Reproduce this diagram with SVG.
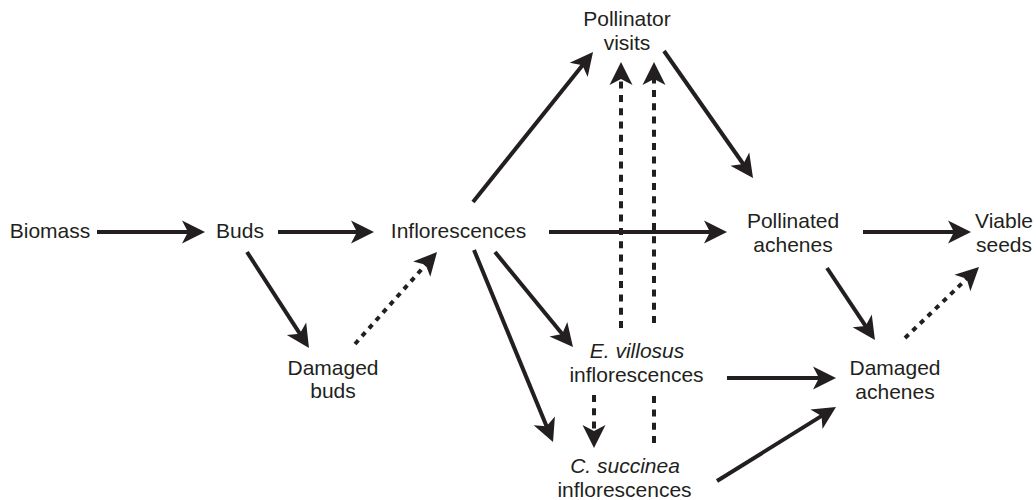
<svg xmlns="http://www.w3.org/2000/svg" width="1036" height="500" viewBox="0 0 1036 500">
<style>
text{font-family:"Liberation Sans",Arial,sans-serif;font-size:21px;fill:#231f20;text-anchor:middle}
.it{font-style:italic}
.c{fill:none;stroke:#231f20;stroke-width:4;marker-end:url(#ah)}
.dv{stroke-dasharray:7 6.3}
.dd{stroke-dasharray:5 5.5}
</style>
<defs>
<marker id="ah" viewBox="-24 -12 24 24" refX="-14" refY="0" markerWidth="24" markerHeight="24" markerUnits="userSpaceOnUse" orient="auto">
<path d="M0,0 L-23,-11.5 L-17,0 L-23,11.5 Z" fill="#231f20"/>
</marker>
</defs>
<rect width="1036" height="500" fill="#fff"/>
<g id="connectors">
<path class="c" d="M97,232 H191"/>
<path class="c" d="M278,232 H360"/>
<path class="c" d="M549,232 H713"/>
<path class="c" d="M863,232 H957"/>
<path class="c" d="M247,252 L301.4,336.2"/>
<path class="c dd" d="M355,344 L427.7,262.5"/>
<path class="c" d="M473,202 L584.3,62.9"/>
<path class="c" d="M664,51 L745,166.5"/>
<path class="c dv" d="M621,328 V76"/>
<path class="c dv" d="M654,443 V391 M654,323 V76"/>
<path class="c" d="M495,252 L564.1,336.2"/>
<path class="c" d="M474,250 L547.7,429.1"/>
<path class="c dv" d="M594,395 V434"/>
<path class="c" d="M727,378 H822"/>
<path class="c" d="M717,481 L824.1,414.4"/>
<path class="c" d="M827,268 L867.2,328.4"/>
<path class="c dd" d="M905,338 L968.9,276.7"/>
</g>
<g id="biomass"><text x="50" y="238">Biomass</text></g>
<g id="buds"><text x="240" y="238">Buds</text></g>
<g id="inflorescences"><text x="458.5" y="238">Inflorescences</text></g>
<g id="pollinator-visits"><text x="627" y="26">Pollinator</text><text x="627" y="49.5">visits</text></g>
<g id="pollinated-achenes"><text x="793" y="228">Pollinated</text><text x="793" y="252">achenes</text></g>
<g id="viable-seeds"><text x="1004" y="228">Viable</text><text x="1004" y="252">seeds</text></g>
<g id="damaged-buds"><text x="333" y="375">Damaged</text><text x="333" y="398">buds</text></g>
<g id="e-villosus"><text x="637" y="358" class="it">E. villosus</text><text x="636.5" y="382">inflorescences</text></g>
<g id="c-succinea"><text x="625" y="473" class="it">C. succinea</text><text x="624.5" y="497">inflorescences</text></g>
<g id="damaged-achenes"><text x="895" y="375">Damaged</text><text x="895" y="399">achenes</text></g>
</svg>
